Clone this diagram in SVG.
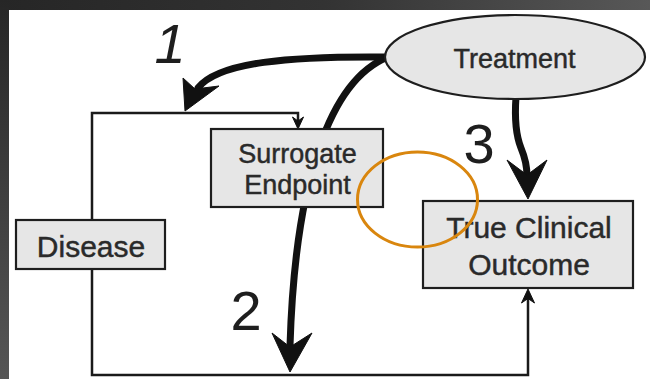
<svg xmlns="http://www.w3.org/2000/svg" width="650" height="379" viewBox="0 0 650 379">
  <defs>
    <linearGradient id="gTop" x1="0" y1="0" x2="1" y2="0">
      <stop offset="0" stop-color="#262626"/>
      <stop offset="0.5" stop-color="#333333"/>
      <stop offset="1" stop-color="#585858"/>
    </linearGradient>
    <linearGradient id="gLeft" x1="0" y1="0" x2="0" y2="1">
      <stop offset="0" stop-color="#262626"/>
      <stop offset="1" stop-color="#565656"/>
    </linearGradient>
    <style>
      .box { fill: #e6e6e6; stroke: #1e1e1e; stroke-width: 2.2; }
      .lbl { font-family: "Liberation Sans", Arial, sans-serif; fill: #2a2a2a; stroke: #2a2a2a; stroke-width: 0.45; text-anchor: middle; }
      .num { font-family: "Liberation Sans", Arial, sans-serif; fill: #1e1e1e; font-size: 56px; text-anchor: middle; }
      .thin { fill: none; stroke: #1a1a1a; stroke-width: 2.5; }
      .thick { fill: none; stroke: #111; stroke-width: 7; stroke-linecap: round; }
      .head { fill: #111; stroke: #111; stroke-width: 1; stroke-linejoin: round; }
    </style>
  </defs>

  <!-- background frame -->
  <rect x="0" y="0" width="650" height="379" fill="#ffffff"/>
  <rect x="0" y="0" width="650" height="10" fill="url(#gTop)"/>
  <rect x="0" y="0" width="9" height="379" fill="url(#gLeft)"/>

  <g id="connectors">
    <!-- feedback loop from Disease to Surrogate -->
    <path class="thin" d="M92,220 V113 H298 V122"/>
    <polygon class="head" points="298,129 292.5,117 298,121 303.5,117"/>
    <!-- loop from Disease to True Clinical Outcome -->
    <path class="thin" d="M92,269 V375 H528 V297"/>
    <polygon class="head" points="528,289 521.5,303 528,298.5 534.5,303"/>

    <!-- arrow 1 : Treatment -> Disease loop -->
    <path class="thick" d="M388,57 C290,56 218,62 198,88"/>
    <polygon class="head" points="185,111 183,78 195,89 219,86"/>

    <!-- arrow 2 : Treatment -> bottom line -->
    <path class="thick" d="M388,57 C330,80 295,180 290,346"/>
    <polygon class="head" points="290,372 272,333 290,347 312,333"/>

    <!-- arrow 3 : Treatment -> True Clinical Outcome -->
    <path class="thick" d="M516,97 C514,125 517,138 521,148 C526,160 527,167 527,176"/>
    <polygon class="head" points="528,199 507,160 527,175 547,160"/>
  </g>

  <g id="treatment">
    <ellipse cx="515" cy="57" rx="130" ry="42" fill="#e6e6e6" stroke="#1e1e1e" stroke-width="2.2"/>
    <text class="lbl" x="514.5" y="68" font-size="27">Treatment</text>
  </g>

  <g id="surrogate">
    <rect class="box" x="211" y="129" width="172" height="78"/>
    <text class="lbl" x="297.5" y="163" font-size="27">Surrogate</text>
    <text class="lbl" x="297.5" y="194" font-size="27">Endpoint</text>
  </g>

  <g id="disease">
    <rect class="box" x="16" y="220" width="149" height="49"/>
    <text class="lbl" x="91" y="257" font-size="30">Disease</text>
  </g>

  <g id="outcome">
    <rect class="box" x="423" y="201" width="210" height="87"/>
    <text class="lbl" x="529" y="238" font-size="30">True Clinical</text>
    <text class="lbl" x="529" y="275" font-size="30">Outcome</text>
  </g>

  <g id="labels">
    <text class="num" x="170" y="63" font-style="italic">1</text>
    <text class="num" x="246" y="330">2</text>
    <text class="num" x="479" y="163">3</text>
  </g>

  <ellipse id="highlight" cx="417.5" cy="199.5" rx="60" ry="47.5" fill="none" stroke="#d9860e" stroke-width="3"/>
</svg>
